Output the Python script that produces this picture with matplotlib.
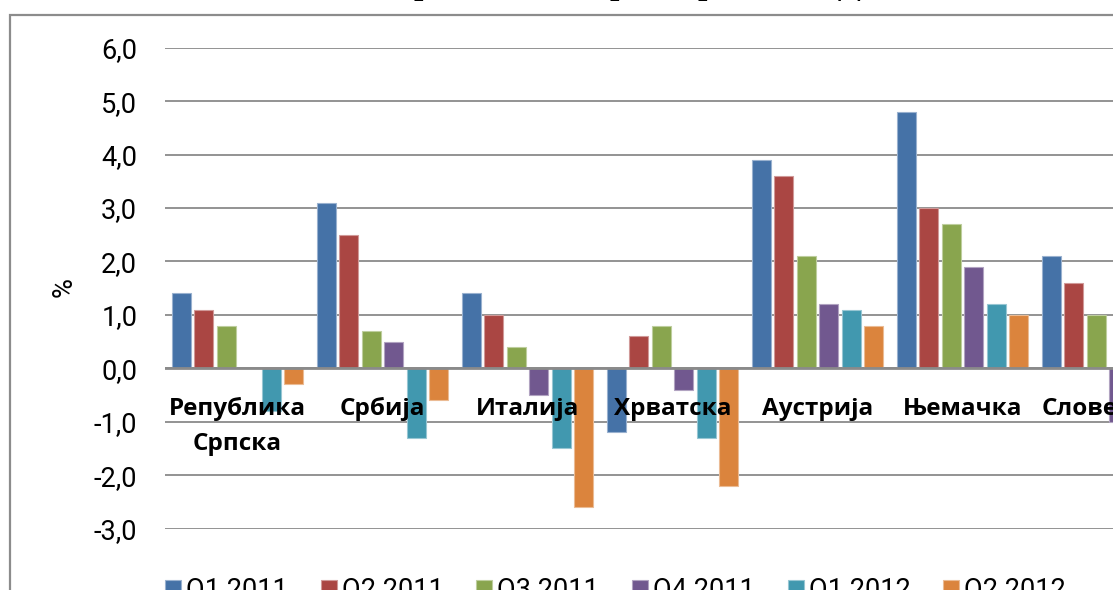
import numpy as np
import matplotlib
matplotlib.use("Agg")
import matplotlib.pyplot as plt
from matplotlib.patches import Rectangle
from matplotlib.ticker import FuncFormatter, MultipleLocator
from matplotlib.colors import to_rgb

# ---------------- data ----------------
categories = ["Република\nСрпска", "Србија", "Италија", "Хрватска", "Аустрија", "Њемачка", "Словенија"]
series_names = ["Q1 2011", "Q2 2011", "Q3 2011", "Q4 2011", "Q1 2012", "Q2 2012"]
q1_2011 = [1.4, 3.1, 1.4, -1.2, 3.9, 4.8, 2.1]
q2_2011 = [1.1, 2.5, 1.0, 0.6, 3.6, 3.0, 1.6]
q3_2011 = [0.8, 0.7, 0.4, 0.8, 2.1, 2.7, 1.0]
q4_2011 = [np.nan, 0.5, -0.5, -0.4, 1.2, 1.9, -1.0]
q1_2012 = [-0.8, -1.3, -1.5, -1.3, 1.1, 1.2, np.nan]
q2_2012 = [-0.3, -0.6, -2.6, -2.2, 0.8, 1.0, np.nan]
series_values = [q1_2011, q2_2011, q3_2011, q4_2011, q1_2012, q2_2012]
colors = ["#4572A7", "#AA4643", "#89A54E", "#71588F", "#4198AF", "#DB843D"]
title_words = ["Квартална", "стопа", "раста", "реалног", "БДП-а"]
y_label = "%"

# ---------------- layout ----------------
W, H = 1113, 590
fig = plt.figure(figsize=(W / 100, H / 100), dpi=100)
renderer = fig.canvas.get_renderer()

left_px, right_px = 165, W
top_px, bottom_px = 47.7, 528.6
ppu = (bottom_px - top_px) / 9.0
ax = fig.add_axes([left_px / W, 1 - bottom_px / H, (right_px - left_px) / W, (bottom_px - top_px) / H])

cat_px = 145.0
slot = 22.5 / cat_px
bar_w = 18.8 / cat_px
x = np.arange(len(categories))

def lighten(c, f=0.45):
    r, g, b = to_rgb(c)
    return (r + (1 - r) * f, g + (1 - g) * f, b + (1 - b) * f)

handles = []
for k, (vals, col) in enumerate(zip(series_values, colors)):
    ax.bar(x + (k - 2.5) * slot, vals, width=bar_w, color=col,
           edgecolor=lighten(col), linewidth=0.8, zorder=3)
    handles.append(Rectangle((0, 0), 1, 1, facecolor=col, edgecolor=lighten(col), linewidth=0.8))

ax.set_ylim(-3, 6)
ax.set_xlim(-0.5, -0.5 + (right_px - left_px) / cat_px)
ax.yaxis.set_major_locator(MultipleLocator(1))
ax.yaxis.set_major_formatter(FuncFormatter(lambda v, p: f"{v:.1f}".replace(".", ",")))
ax.grid(axis="y", color="#8a8a8a", linewidth=1.3, zorder=1)
ax.set_axisbelow(True)
for s in ax.spines.values():
    s.set_visible(False)
ax.axhline(0, color="#8a8a8a", linewidth=2.0, zorder=4)
ax.tick_params(axis="y", length=0, pad=20, labelsize=19.5, labelcolor="black")
ax.set_xticks([])
for lab in ax.get_yticklabels():
    lab.set_family("Roboto")

# category labels (each line placed separately, first baseline just below zero line)
base_y = -(415 - 368.3) / ppu
line_step = 35 / ppu
for i, c in enumerate(categories):
    for j, line in enumerate(c.split("\n")):
        ax.text(i, base_y - j * line_step, line, ha="center", va="baseline", fontsize=17.5,
                fontweight="bold", family=["Open Sans", "DejaVu Sans"], zorder=6, clip_on=False)

fig.text(64 / W, 1 - 287 / H, y_label, rotation=90, ha="center", va="center",
         fontsize=19.5, family="Roboto")

# legend
fig.legend(handles, series_names, ncol=6, loc="upper left",
           bbox_to_anchor=(165 / W, 1 - 577 / H), frameon=False,
           prop={"family": "Roboto", "size": 19.5},
           handlelength=0.59, handleheight=0.59, handletextpad=0.19,
           columnspacing=1.21, borderpad=0, borderaxespad=0)

# outer chart border (cropped)
fig.add_artist(Rectangle((10 / W, -0.1), 1.2, 1 - 15 / H + 0.1, transform=fig.transFigure,
                         fill=False, edgecolor="#8c8c8c", linewidth=1.6, zorder=0))

# title (mostly cropped above the figure); words placed so descenders land where visible
tkw = dict(fontsize=24, fontweight="bold", family="Liberation Serif")
em = 24 * 100 / 72.0

def width_px(s):
    t = fig.text(0, 0, s, **tkw)
    w = t.get_window_extent(renderer).width
    t.remove()
    return w

title_y = 1 + 6 / H
x0 = 419 - width_px("Ква") - 0.14 * em
x_rasta = 613 - 0.12 * em
x_real = 702 - 0.12 * em
x_bdp = 852 - width_px("Б") - 0.02 * em - width_px("Д") / 2
x_stopa = x0 + width_px(title_words[0]) + 0.3 * em
positions = [x0, x_stopa, x_rasta, x_real, x_bdp]
for wd, px in zip(title_words, positions):
    fig.text(px / W, title_y, wd, ha="left", va="baseline", **tkw)

fig.savefig("out.png", dpi=100)
